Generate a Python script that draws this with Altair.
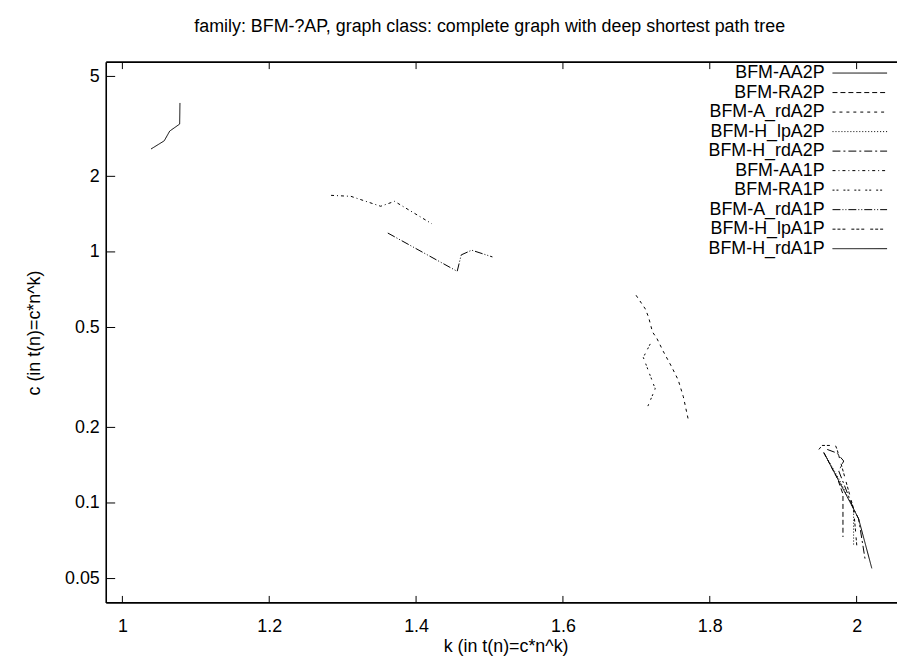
import altair as alt
import pandas as pd

series_names = ["BFM-AA2P", "BFM-RA2P", "BFM-A_rdA2P", "BFM-H_lpA2P", "BFM-H_rdA2P",
                "BFM-AA1P", "BFM-RA1P", "BFM-A_rdA1P", "BFM-H_lpA1P", "BFM-H_rdA1P"]

# k (exponent) and c (constant) per series
k_AA2P = [1.039, 1.057, 1.0645, 1.078, 1.0784]
c_AA2P = [2.57, 2.77, 3.03, 3.23, 3.92]

k_RA2P = [1.9554, 1.974, 1.9814, 1.9814]
c_RA2P = [0.1586, 0.125, 0.1085, 0.0732]

k_A_rdA2P = [1.6996, 1.7122, 1.7166, 1.722, 1.728, 1.737, 1.748, 1.757, 1.764, 1.7707]
c_A_rdA2P = [0.672, 0.593, 0.550, 0.480, 0.452, 0.400, 0.349, 0.309, 0.265, 0.215]

k_H_lpA2P = [1.9554, 1.9757, 1.9959, 1.9959]
c_H_lpA2P = [0.1586, 0.125, 0.0947, 0.0678]

k_H_rdA2P = [1.96, 1.9734, 1.9824, 1.978, 1.9757, 1.9959, 2.0027, 2.0118]
c_H_rdA2P = [0.1634, 0.158, 0.1469, 0.1384, 0.134, 0.0947, 0.0865, 0.0591]

k_AA1P = [1.2842, 1.3112, 1.3518, 1.3707, 1.4216]
c_AA1P = [1.680, 1.665, 1.520, 1.590, 1.294]

k_RA1P = [1.7189, 1.7095, 1.7257, 1.7149]
c_RA1P = [0.43, 0.38, 0.285, 0.24]

k_A_rdA1P = [1.3615, 1.456, 1.4615, 1.4757, 1.504]
c_A_rdA1P = [1.189, 0.837, 0.973, 1.016, 0.955]

k_H_lpA1P = [1.9486, 1.953, 1.9712, 1.9734, 1.9959, 2.0004]
c_H_lpA1P = [0.1634, 0.1695, 0.1695, 0.1634, 0.0947, 0.0668]

k_H_rdA1P = [1.9554, 1.9959, 2.0027, 2.0207]
c_H_rdA1P = [0.1586, 0.0947, 0.0865, 0.0549]

x_ticks = [1, 1.2, 1.4, 1.6, 1.8, 2]
y_ticks = [0.05, 0.1, 0.2, 0.5, 1, 2, 5]

dash_styles = [[1, 0], [5, 3], [3, 4], [1, 2], [8, 3, 2, 3],
               [3, 3, 1, 3], [2, 2, 2, 5], [8, 2, 1, 2, 1, 2], [3, 2, 3, 2, 3, 6], [1, 0]]

all_k = [k_AA2P, k_RA2P, k_A_rdA2P, k_H_lpA2P, k_H_rdA2P, k_AA1P, k_RA1P, k_A_rdA1P, k_H_lpA1P, k_H_rdA1P]
all_c = [c_AA2P, c_RA2P, c_A_rdA2P, c_H_lpA2P, c_H_rdA2P, c_AA1P, c_RA1P, c_A_rdA1P, c_H_lpA1P, c_H_rdA1P]

rows = []
for name, ks, cs in zip(series_names, all_k, all_c):
    for i, (k, c) in enumerate(zip(ks, cs)):
        rows.append({"series": name, "k": k, "c": c, "i": i})
df = pd.DataFrame(rows)

W, H = 797, 545
FONT = "Liberation Sans"
FS = 18

x_scale = alt.Scale(domain=[0.978, 2.055], nice=False, zero=False)
y_scale = alt.Scale(type="log", domain=[0.04, 5.7], nice=False)
dash_scale = alt.Scale(domain=series_names, range=dash_styles)

lines = alt.Chart(df).mark_line(color="black", strokeWidth=1).encode(
    x=alt.X("k:Q", scale=x_scale,
            axis=alt.Axis(values=x_ticks, format="~g", title="k (in t(n)=c*n^k)",
                          labelPadding=15, titleX=W / 2 + 4, titleY=44,
                          titleBaseline="middle", titleAlign="center")),
    y=alt.Y("c:Q", scale=y_scale,
            axis=alt.Axis(values=y_ticks, format="~g", title="c (in t(n)=c*n^k)",
                          labelPadding=7, titleX=-72, titleY=H / 2,
                          titleAngle=270, titleBaseline="middle", titleAlign="center")),
    strokeDash=alt.StrokeDash("series:N", scale=dash_scale, legend=None),
    order="i:Q",
)

xt = pd.DataFrame({"k": x_ticks})
yt = pd.DataFrame({"c": y_ticks})

xtick_bottom = alt.Chart(xt).mark_rule(color="black", strokeWidth=1).encode(
    x=alt.X("k:Q", scale=x_scale), y=alt.value(H), y2=alt.value(H - 7))
xtick_top = alt.Chart(xt).mark_rule(color="black", strokeWidth=1).encode(
    x=alt.X("k:Q", scale=x_scale), y=alt.value(0), y2=alt.value(7))
ytick_left = alt.Chart(yt).mark_rule(color="black", strokeWidth=1).encode(
    y=alt.Y("c:Q", scale=y_scale, axis=None), x=alt.value(0), x2=alt.value(9))

frame_df = pd.DataFrame({"a": [0]})
frame_top = alt.Chart(frame_df).mark_rule(color="black", strokeWidth=1.6).encode(
    x=alt.value(0), x2=alt.value(W), y=alt.value(0))
frame_bottom = alt.Chart(frame_df).mark_rule(color="black", strokeWidth=1.6).encode(
    x=alt.value(0), x2=alt.value(W), y=alt.value(H))
frame_left = alt.Chart(frame_df).mark_rule(color="black", strokeWidth=1.6).encode(
    x=alt.value(0), y=alt.value(0), y2=alt.value(H))

leg_df = pd.DataFrame({"series": series_names})
leg_y = alt.Y("series:N", scale=alt.Scale(type="point", domain=series_names, range=[11, 188], padding=0), axis=None)
leg_text = alt.Chart(leg_df).mark_text(align="right", baseline="middle", font=FONT, fontSize=FS, color="black").encode(
    y=leg_y, x=alt.value(724), text="series:N")
leg_line = alt.Chart(leg_df).mark_rule(color="black", strokeWidth=1).encode(
    y=leg_y, x=alt.value(732), x2=alt.value(787),
    strokeDash=alt.StrokeDash("series:N", scale=dash_scale, legend=None))

chart = alt.layer(
    lines, xtick_bottom, xtick_top, ytick_left,
    frame_top, frame_bottom, frame_left, leg_text, leg_line
).resolve_scale(y="independent").properties(
    width=W, height=H,
    autosize=alt.AutoSizeParams(type="none"),
    padding={"left": 99, "top": 52, "right": 0, "bottom": 56},
    title=alt.TitleParams("family: BFM-?AP, graph class: complete graph with deep shortest path tree",
                          font=FONT, fontSize=FS, fontWeight="normal", color="black",
                          anchor="middle", dx=-12, offset=26),
).configure_view(stroke=None).configure_axis(
    labelFont=FONT, titleFont=FONT, labelFontSize=FS, titleFontSize=FS,
    labelColor="black", titleColor="black", titleFontWeight="normal",
    domain=False, ticks=False, tickSize=0, grid=False,
)

chart.save("out.html", embed_options={"renderer": "svg", "actions": False})
